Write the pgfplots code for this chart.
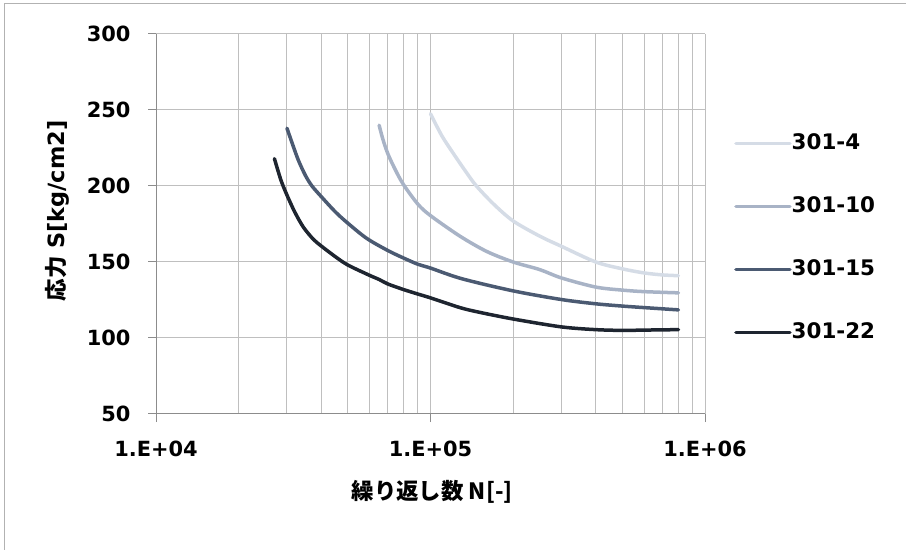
\documentclass[border=0pt]{standalone}
\usepackage{fontspec}
\usepackage{pgfplots}
\pgfplotsset{compat=1.18}
\setmainfont{DejaVu Sans}
\newfontfamily\cjk{Noto Sans CJK JP}
\definecolor{cA}{HTML}{D5DCE6}
\definecolor{cB}{HTML}{A8B3C6}
\definecolor{cC}{HTML}{4B5A72}
\definecolor{cD}{HTML}{1E2530}
\begin{document}
\begin{tikzpicture}
\useasboundingbox (0,0) rectangle (906bp,550bp);
\draw[black!30, line width=1bp] (4bp,0) -- (4bp,546.5bp) -- (906bp,546.5bp);
\begin{axis}[
  at={(156bp,136bp)}, anchor=south west,
  width=549bp, height=380bp, scale only axis,
  xmode=log, log basis x=10,
  xmin=1e4, xmax=1e6, ymin=50, ymax=300,
  xtick={1e4,1e5,1e6}, xticklabels={1.E+04,1.E+05,1.E+06},
  minor xtick={2e4,3e4,4e4,5e4,6e4,7e4,8e4,9e4,2e5,3e5,4e5,5e5,6e5,7e5,8e5,9e5},
  ytick={50,100,150,200,250,300},
  axis x line*=bottom, axis y line*=left,
  axis line style={black!45, line width=1bp, -},
  grid=both,
  major grid style={black!25, line width=1bp},
  minor grid style={black!25, line width=1bp},
  tick align=outside,
  major tick length=8bp, minor tick length=0bp,
  tick style={black!45, line width=1bp},
  /pgf/number format/assume math mode=true,
  ticklabel style={font=\fontsize{21}{25}\selectfont\bfseries},
  yticklabel style={xshift=-14bp},
  xticklabel style={yshift=-15bp},
  xlabel={\cjk\bfseries 繰り返し数 N[-]},
  ylabel={{\cjk\bfseries 応力} S[kg/cm2]},
  label style={font=\fontsize{22.5}{26}\selectfont\bfseries},
  xlabel style={at={(axis description cs:0.503,-0.205)}, anchor=center},
  ylabel style={at={(axis description cs:-0.180,0.534)}, anchor=center, rotate=0},
  legend style={at={(axis description cs:1.0528,0.463)}, anchor=west, draw=none, fill=none,
    inner sep=0pt, row sep=44bp, font=\fontsize{21.5}{25}\selectfont\bfseries,
    nodes={inner sep=0pt, text height=15bp, text depth=4bp}},
  legend cell align=left,
  legend image code/.code={\draw[#1, line width=3.5bp] (0bp,0bp) -- (54bp,0bp);},
  every axis plot/.append style={line width=3.5bp, smooth, line cap=round, line join=round},
  /tikz/every even column/.append style={column sep=5bp},
]
\addplot[cA] coordinates {(100000,247.5) (110000,233) (121000,221.5) (135000,209) (147000,200) (170000,188) (200000,177) (250000,167) (300000,160.3) (400000,150) (500000,145.5) (600000,142.8) (700000,141.5) (800000,141)};
\addlegendentry{301-4}
\addplot[cB] coordinates {(65000,240) (67000,231) (70000,221) (75000,209.5) (80000,200.5) (90000,188) (100000,180.5) (128000,167) (160000,157) (200000,150) (250000,145) (300000,139.5) (400000,133.5) (500000,131.5) (600000,130.5) (800000,129.7)};
\addlegendentry{301-10}
\addplot[cC] coordinates {(30000,238) (31500,227) (33000,217) (35000,207) (37000,200) (40000,193) (45000,183) (50000,175.5) (58600,165.5) (70000,157.5) (80000,152.5) (90000,148.5) (100000,146) (130000,139) (200000,131) (300000,125.3) (400000,122.5) (500000,121) (600000,120) (800000,118.5)};
\addlegendentry{301-15}
\addplot[cD] coordinates {(27000,218) (28500,204) (30000,194) (32000,183) (34400,173) (37400,165) (40000,160.5) (45000,153.5) (50000,148) (60000,141.2) (65000,138.5) (70000,135.5) (80000,131.8) (90000,128.9) (100000,126.4) (128000,120) (150000,117) (200000,112.5) (300000,107.3) (400000,105.5) (500000,105) (600000,105.2) (800000,105.5)};
\addlegendentry{301-22}
\end{axis}
\end{tikzpicture}
\end{document}
